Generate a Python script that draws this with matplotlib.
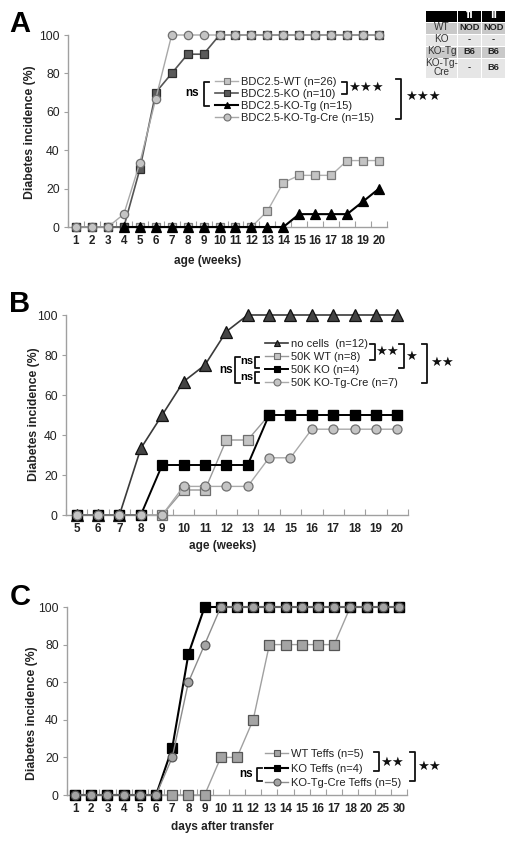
import matplotlib
matplotlib.use('Agg')
import matplotlib.pyplot as plt
from matplotlib.lines import Line2D
from matplotlib.patches import Rectangle
import numpy as np

plt.rcParams['font.family'] = ['Liberation Sans', 'DejaVu Sans']

W, H = 512, 842
fig = plt.figure(figsize=(W / 100, H / 100), dpi=100)


def fx(px):
    return px / W


def fy(py):
    return 1 - py / H


nan = np.nan

# ---------------- data ----------------
# Panel A
a_weeks = [str(i) for i in range(1, 21)]
a_wt = [0] * 12 + [8.3, 23.1, 26.9, 26.9, 26.9, 34.6, 34.6, 34.6]
a_ko = [0, 0, 0, 0, 30, 70, 80, 90, 90] + [100] * 11
a_kotg = [nan, nan, nan] + [0] * 11 + [6.7, 6.7, 6.7, 6.7, 13.3, 20]
a_cre = [0, 0, 0, 6.7, 33.3, 66.7] + [100] * 14
a_labels = ['BDC2.5-WT (n=26)', 'BDC2.5-KO (n=10)', 'BDC2.5-KO-Tg (n=15)',
            'BDC2.5-KO-Tg-Cre (n=15)']

# Panel B
b_weeks = [str(i) for i in range(5, 21)]
b_none = [0, 0, 0, 33.3, 50, 66.7, 75, 91.7] + [100] * 8
b_wt = [0, 0, 0, 0, 0, 12.5, 12.5, 37.5, 37.5] + [50] * 7
b_ko = [0, 0, 0, 0, 25, 25, 25, 25, 25] + [50] * 7
b_cre = [0, 0, 0, 0, 0, 14.3, 14.3, 14.3, 14.3, 28.6, 28.6] + [42.9] * 5
b_labels = ['no cells  (n=12)', '50K WT (n=8)', '50K KO (n=4)',
            '50K KO-Tg-Cre (n=7)']

# Panel C
c_days = [str(i) for i in range(1, 19)] + ['20', '25', '30']
c_wt = [0] * 9 + [20, 20, 40, 80, 80, 80, 80, 80, 100, 100, 100, 100]
c_ko = [0] * 6 + [25, 75] + [100] * 13
c_cre = [0] * 6 + [20, 60, 80] + [100] * 12
c_labels = ['WT Teffs (n=5)', 'KO Teffs (n=4)', 'KO-Tg-Cre Teffs (n=5)']

# table
tbl_cols = ['', 'fl', 'li']
tbl_rows = ['WT', 'KO', 'KO-Tg', 'KO-Tg-\nCre']
tbl_vals = [['NOD', 'NOD'], ['-', '-'], ['B6', 'B6'], ['-', 'B6']]


# ---------------- helpers ----------------
def make_axes(l, r, t, b):
    return fig.add_axes([fx(l), fy(b), fx(r - l), (b - t) / H])


def setup(ax, labels):
    n = len(labels)
    ax.set_xlim(-0.5, n - 0.5)
    ax.set_ylim(0, 100)
    for s in ['top', 'right']:
        ax.spines[s].set_visible(False)
    for s in ['left', 'bottom']:
        ax.spines[s].set_color('#a0a0a0')
        ax.spines[s].set_linewidth(1.0)
    ax.set_xticks(range(n))
    ax.set_xticklabels(labels, fontsize=8.4, fontweight='bold', color='#222222')
    ax.tick_params(axis='x', which='major', length=0, pad=6)
    ax.set_xticks(np.arange(-0.5, n, 1.0), minor=True)
    ax.tick_params(axis='x', which='minor', length=4, direction='in',
                   color='#a0a0a0', width=0.8)
    ax.set_yticks(range(0, 101, 20))
    ax.tick_params(axis='y', length=3, direction='out', color='#a0a0a0',
                   labelsize=8.8, labelcolor='#222222', pad=3)


def plot_series(ax, y, marker, fc, ec, lc, lw=1.0, ms=6):
    x = np.arange(len(y))
    ax.plot(x, y, color=lc, lw=lw, marker=marker, markersize=ms,
            markerfacecolor=fc, markeredgecolor=ec, markeredgewidth=0.9,
            clip_on=False, zorder=3)


def bracket(xv, y0, y1, direction, tick=5, lw=1.3):
    xs = [xv + direction * tick, xv, xv, xv + direction * tick]
    ys = [y0, y0, y1, y1]
    fig.add_artist(Line2D([fx(v) for v in xs], [fy(v) for v in ys],
                          color='#111111', lw=lw, transform=fig.transFigure))


def ftext(px, py, s, **kw):
    fig.text(fx(px), fy(py), s, ha=kw.pop('ha', 'center'),
             va=kw.pop('va', 'center'), **kw)


def add_legend(ax, styles, labels, left, top, spacing):
    handles = []
    for (m, fc, ec, lc, lw) in styles:
        handles.append(Line2D([], [], color=lc, lw=lw, marker=m, markersize=5,
                              markerfacecolor=fc, markeredgecolor=ec,
                              markeredgewidth=0.8))
    leg = ax.legend(handles, labels, loc='upper left',
                    bbox_to_anchor=(fx(left), fy(top)),
                    bbox_transform=fig.transFigure, frameon=False,
                    fontsize=8, handlelength=2.1, handletextpad=0.2,
                    borderpad=0, borderaxespad=0, labelspacing=spacing)
    for t in leg.get_texts():
        t.set_color('#222222')
    return leg


STAR = 9.5

# ---------------- Panel A ----------------
axA = make_axes(68, 387, 35, 227)
setup(axA, a_weeks)
stA = [('s', '#c4c4c4', '#7a7a7a', '#b0b0b0', 1.0),
       ('s', '#5a5a5a', '#2e2e2e', '#555555', 1.2),
       ('^', '#000000', '#000000', '#000000', 1.5),
       ('o', '#c4c4c4', '#707070', '#a8a8a8', 1.0)]
plot_series(axA, a_wt, 's', *stA[0][1:4], lw=1.0, ms=6)
plot_series(axA, a_ko, 's', *stA[1][1:4], lw=1.2, ms=6.3)
plot_series(axA, a_kotg, '^', *stA[2][1:4], lw=1.5, ms=7)
plot_series(axA, a_cre, 'o', *stA[3][1:4], lw=1.0, ms=6)
add_legend(axA, stA, a_labels, 215, 77, 0.17)
ftext(30, 132, 'Diabetes incidence (%)', rotation=90, fontsize=8.8,
      fontweight='bold', color='#222222')
ftext(208, 261, 'age (weeks)', fontsize=8.5, fontweight='bold', color='#222222')
ftext(20, 24, 'A', fontsize=21, fontweight='bold')
bracket(204, 82, 106, +1)
ftext(192, 93, 'ns', fontsize=8.5, fontweight='bold')
bracket(347, 82, 94, -1)
ftext(366, 88, '★★★', fontsize=STAR, color='#111111')
bracket(401, 79, 119, -1)
ftext(423, 97, '★★★', fontsize=STAR, color='#111111')

# table
col_x = [426, 458, 482, 506]
row_y = [10, 22, 34, 46, 58, 78]
row_bg = ['#000000', '#c9c9c9', '#e6e6e6', '#c9c9c9', '#e6e6e6']
for ri in range(5):
    for ci in range(3):
        x0, x1 = col_x[ci], col_x[ci + 1]
        y0, y1 = row_y[ri], row_y[ri + 1]
        fig.add_artist(Rectangle((fx(x0), fy(y1)), fx(x1 - x0 - 1),
                                 (y1 - y0 - 1) / H, transform=fig.transFigure,
                                 facecolor=row_bg[ri], edgecolor='none'))
        cx = (x0 + x1 - 1) / 2
        cy = (y0 + y1 - 1) / 2
        if ri == 0:
            if tbl_cols[ci]:
                ftext(cx, cy, tbl_cols[ci], fontsize=9, fontweight='bold',
                      color='white')
        elif ci == 0:
            ftext(cx, cy, tbl_rows[ri - 1], fontsize=7.2, color='#333333',
                  linespacing=0.95)
        else:
            ftext(cx, cy, tbl_vals[ri - 1][ci - 1], fontsize=6.7,
                  fontweight='bold', color='#222222')

# ---------------- Panel B ----------------
axB = make_axes(66, 408, 315, 515)
setup(axB, b_weeks)
stB = [('^', '#444444', '#111111', '#3a3a3a', 1.2),
       ('s', '#c4c4c4', '#6e6e6e', '#999999', 1.0),
       ('s', '#000000', '#000000', '#000000', 1.4),
       ('o', '#c4c4c4', '#707070', '#aaaaaa', 1.0)]
plot_series(axB, b_none, '^', *stB[0][1:4], lw=1.2, ms=8)
plot_series(axB, b_wt, 's', *stB[1][1:4], lw=1.0, ms=6.5)
plot_series(axB, b_ko, 's', *stB[2][1:4], lw=1.4, ms=6.5)
plot_series(axB, b_cre, 'o', *stB[3][1:4], lw=1.0, ms=6.5)
add_legend(axB, stB, b_labels, 265, 339, 0.27)
ftext(34, 414, 'Diabetes incidence (%)', rotation=90, fontsize=8.8,
      fontweight='bold', color='#222222')
ftext(223, 546, 'age (weeks)', fontsize=8.5, fontweight='bold', color='#222222')
ftext(20, 304, 'B', fontsize=21, fontweight='bold')
bracket(235, 357, 383, +1)
ftext(226, 370, 'ns', fontsize=8.5, fontweight='bold')
bracket(255, 357, 368, +1, tick=4)
ftext(247, 361, 'ns', fontsize=8, fontweight='bold')
bracket(255, 372, 383, +1, tick=4)
ftext(247, 377, 'ns', fontsize=8, fontweight='bold')
bracket(375, 344, 360, -1)
ftext(387, 352, '★★', fontsize=STAR, color='#111111')
bracket(404, 344, 368, -1)
ftext(411, 357, '★', fontsize=STAR, color='#111111')
bracket(427, 344, 383, -1)
ftext(442, 363, '★★', fontsize=STAR, color='#111111')

# ---------------- Panel C ----------------
axC = make_axes(67, 407, 607, 795)
setup(axC, c_days)
stC = [('s', '#a4a4a4', '#555555', '#a0a0a0', 1.0),
       ('s', '#000000', '#000000', '#000000', 1.5),
       ('o', '#a4a4a4', '#555555', '#8c8c8c', 1.0)]
plot_series(axC, c_wt, 's', *stC[0][1:4], lw=1.0, ms=6.5)
plot_series(axC, c_ko, 's', *stC[1][1:4], lw=1.5, ms=6.5)
plot_series(axC, c_cre, 'o', *stC[2][1:4], lw=1.0, ms=6.3)
add_legend(axC, stC, c_labels, 265, 749, 0.42)
ftext(32, 713, 'Diabetes incidence (%)', rotation=90, fontsize=8.8,
      fontweight='bold', color='#222222')
ftext(222, 827, 'days after transfer', fontsize=8.5, fontweight='bold',
      color='#222222')
ftext(20, 597, 'C', fontsize=21, fontweight='bold')
bracket(379, 752, 771, -1)
ftext(392, 763, '★★', fontsize=STAR, color='#111111')
bracket(415, 752, 781, -1)
ftext(429, 767, '★★', fontsize=STAR, color='#111111')
bracket(257, 768, 781, +1)
ftext(246, 774, 'ns', fontsize=8.5, fontweight='bold')

fig.savefig('out.png', dpi=100, facecolor='white')
